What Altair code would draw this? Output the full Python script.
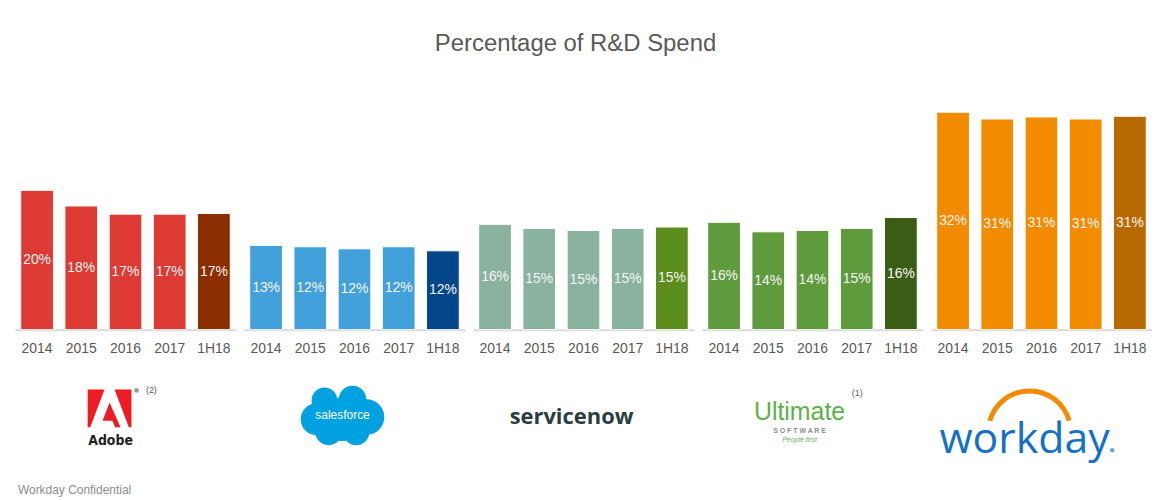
import altair as alt
import pandas as pd

companies = ["Adobe", "Salesforce", "ServiceNow", "Ultimate", "Workday"]
periods = ["2014", "2015", "2016", "2017", "1H18"]

# bar heights (% of revenue spent on R&D)
adobe_values = [20.5, 18.2, 17.0, 17.0, 17.1]
salesforce_values = [12.4, 12.2, 11.9, 12.2, 11.6]
servicenow_values = [15.5, 14.9, 14.6, 14.9, 15.1]
ultimate_values = [15.8, 14.4, 14.6, 14.9, 16.5]
workday_values = [32.0, 31.0, 31.3, 31.0, 31.4]

# printed labels inside the bars
adobe_labels = ["20%", "18%", "17%", "17%", "17%"]
salesforce_labels = ["13%", "12%", "12%", "12%", "12%"]
servicenow_labels = ["16%", "15%", "15%", "15%", "15%"]
ultimate_labels = ["16%", "14%", "14%", "15%", "16%"]
workday_labels = ["32%", "31%", "31%", "31%", "31%"]

# bar colours, last one (1H18) is darker
adobe_colors = ["#dc3a32"] * 4 + ["#8b2e02"]
salesforce_colors = ["#42a0da"] * 4 + ["#03468a"]
servicenow_colors = ["#8ab39f"] * 4 + ["#5b8c1c"]
ultimate_colors = ["#5f9a3d"] * 4 + ["#3b5c14"]
workday_colors = ["#f28b00"] * 4 + ["#b86a00"]

all_values = [adobe_values, salesforce_values, servicenow_values, ultimate_values, workday_values]
all_labels = [adobe_labels, salesforce_labels, servicenow_labels, ultimate_labels, workday_labels]
all_colors = [adobe_colors, salesforce_colors, servicenow_colors, ultimate_colors, workday_colors]

PANEL_W = 222
PANEL_H = 230
GAP = 8
X0, Y0 = 15, 100  # page position of the first panel's plot area
FONT = "Liberation Sans"


def at(px, py, i):
    # page pixel -> pixel inside panel i
    return dict(x=alt.value(px - (X0 + i * (PANEL_W + GAP))), y=alt.value(py - Y0))


def word(text, px, py, i, **style):
    return alt.Chart(pd.DataFrame({"t": [text]})).mark_text(**style).encode(
        text="t:N", **at(px, py, i))


def shape(path, size, color, px, py, i):
    return alt.Chart(pd.DataFrame({"t": [0]})).mark_point(
        shape=path, size=size, filled=True, color=color, opacity=1, strokeWidth=0
    ).encode(**at(px, py, i))


def circles(lst):
    p = ""
    for cx, cy, r in lst:
        p += f"M{cx - r:.3f},{cy:.3f}a{r},{r} 0 1,0 {2 * r},0a{r},{r} 0 1,0 {-2 * r},0"
    return p


adobe_path = ("M-1,-0.86L-0.23,-0.86L-0.88,0.86L-1,0.86Z"
              "M0.23,-0.86L1,-0.86L1,0.86L0.88,0.86Z"
              "M0,-0.26L0.5,0.86L0.25,0.86L0.13,0.57L-0.32,0.57Z")
cloud_path = circles([(0, 0.07, 0.52), (-0.62, 0.07, 0.38), (0.57, 0.02, 0.43),
                      (-0.43, -0.38, 0.31), (0.24, -0.4, 0.33),
                      (-0.33, 0.36, 0.33), (0.33, 0.38, 0.31)])

logos = [
    [
        shape(adobe_path, 1936, "#ed1c24", 110, 409, 0),
        word("Adobe", 111, 442, 0, font="DejaVu Sans Condensed", fontSize=14,
             fontWeight="bold", color="#231f20"),
        shape("circle", 22, "#9a9a9a", 137, 391, 0),
        word("(2)", 152, 391, 0, font=FONT, fontSize=9, color="#595959"),
        word("Workday Confidential", 18, 491, 0, font=FONT, fontSize=12,
             color="#8c8c8c", align="left"),
    ],
    [
        shape(cloud_path, 7056, "#00a1e0", 344, 417, 1),
        word("salesforce", 344, 416, 1, font=FONT, fontSize=12, color="white"),
    ],
    [
        word("servicenow", 574, 418, 2, font="Open Sans", fontSize=22,
             fontWeight="bold", color="#293e40"),
    ],
    [
        word("Ultimate", 803, 413, 3, font=FONT, fontSize=25, color="#5cb14a"),
        word("S O F T W A R E", 803, 432, 3, font=FONT, fontSize=7,
             fontWeight="bold", color="#8c8c8c"),
        word("People first", 803, 441, 3, font=FONT, fontSize=7, fontStyle="italic",
             color="#6cb84f"),
        word("(1)", 861, 394, 3, font=FONT, fontSize=9, color="#595959"),
    ],
    [
        alt.Chart(pd.DataFrame({"t": [0]})).mark_arc(
            theta=4.99, theta2=7.57, radius=44, radius2=39, color="#f38b00"
        ).encode(**at(1034, 433, 4)),
        word("workday", 1029, 441, 4, font="Open Sans", fontSize=43,
             color="#1470c8"),
        shape("circle", 20, "#6aa6dd", 1117, 451, 4),
    ],
]

panels = []
for i, name in enumerate(companies):
    df = pd.DataFrame({
        "period": periods,
        "value": all_values[i],
        "label": all_labels[i],
        "color": all_colors[i],
    })
    base = alt.Chart(df).encode(
        x=alt.X("period:N", sort=periods, title=None,
                scale=alt.Scale(paddingInner=0.26, paddingOuter=0.13),
                axis=alt.Axis(labelAngle=0, ticks=False, labelPadding=12,
                              labelFont=FONT, labelFontSize=14, labelColor="#595959",
                              domainColor="#d9d9d9", domainWidth=2)),
    )
    bars = base.mark_bar(stroke="white", strokeWidth=1).encode(
        y=alt.Y("value:Q", scale=alt.Scale(domain=[0, 33.7], nice=False), axis=None),
        color=alt.Color("color:N", scale=None),
    )
    text = base.transform_calculate(mid="datum.value / 2").mark_text(
        font=FONT, fontSize=14, color="#f5f5f5"
    ).encode(y="mid:Q", text="label:N")
    panels.append(alt.layer(bars, text, *logos[i]).properties(width=PANEL_W, height=PANEL_H))

chart = alt.hconcat(
    *panels, spacing=GAP, bounds="flush",
    title=alt.TitleParams("Percentage of R&D Spend", font=FONT, fontSize=24,
                          fontWeight="normal", color="#595959", anchor="middle",
                          dx=-8, offset=45),
).properties(
    padding={"left": 7, "top": 23, "right": 0, "bottom": 0}
).configure_view(stroke=None).configure_axis(grid=False)

chart.save("out.html", embed_options={"renderer": "svg", "actions": False})
